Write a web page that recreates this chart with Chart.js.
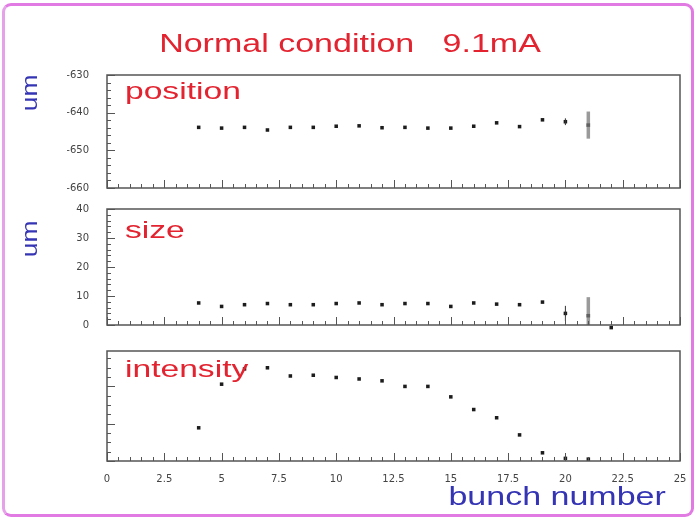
<!DOCTYPE html>
<html>
<head>
<meta charset="utf-8">
<script src="https://cdn.jsdelivr.net/npm/chart.js@4"></script>
<style>
  html, body { margin: 0; padding: 0; background: #fff; }
  #page { position: relative; width: 696px; height: 518px; overflow: hidden; background: #fff; }
  #frame {
    position: absolute; left: 2px; top: 3px; width: 686px; height: 508px;
    border: 3px solid #e27ae4; border-left-color: #e6a2e8; border-radius: 9px;
  }
  canvas { position: absolute; left: 0; top: 0; }
  .txt { position: absolute; font-family: "Liberation Sans", Arial, sans-serif; white-space: pre; line-height: 1; }
  .red { color: #e3232f; }
  .blue { color: #3434b4; }
</style>
</head>
<body>
<div id="page">
  <div id="frame"></div>
  <canvas id="c-pos" width="696" height="518"></canvas>
  <canvas id="c-size" width="696" height="518"></canvas>
  <canvas id="c-int" width="696" height="518"></canvas>
  <div class="txt red" style="left:0;width:700px;text-align:center;top:31px;font-size:25px;transform:scaleX(1.36);transform-origin:350px 0;">Normal condition   9.1mA</div>
  <div class="txt red" style="left:125px;top:79px;font-size:24px;transform:scaleX(1.4);transform-origin:0 0;">position</div>
  <div class="txt red" style="left:125px;top:218px;font-size:24px;transform:scaleX(1.4);transform-origin:0 0;">size</div>
  <div class="txt red" style="left:125px;top:357px;font-size:24px;transform:scaleX(1.4);transform-origin:0 0;">intensity</div>
  <div class="txt blue" style="left:15px;top:80px;font-size:22px;transform:rotate(-90deg) scaleX(1.2);transform-origin:16px 12px;">um</div>
  <div class="txt blue" style="left:15px;top:226px;font-size:22px;transform:rotate(-90deg) scaleX(1.2);transform-origin:16px 12px;">um</div>
  <div class="txt blue" style="right:30px;top:484px;font-size:25px;transform:scaleX(1.36);transform-origin:100% 0;">bunch number</div>
</div>
<script>
// bunch numbers along the shared x axis
const posBunch = [4, 5, 6, 7, 8, 9, 10, 11, 12, 13, 14, 15, 16, 17, 18, 19, 20, 21];
const posValues = [-643.9, -644.1, -643.9, -644.6, -643.9, -643.9, -643.6, -643.5, -644.0,
  -643.9, -644.1, -644.1, -643.6, -642.7, -643.7, -641.9, -642.4, -643.3];
const posErrors = [0, 0, 0, 0, 0, 0, 0, 0, 0, 0, 0, 0, 0, 0, 0, 0, 0.9, 3.6];

const sizeBunch = [4, 5, 6, 7, 8, 9, 10, 11, 12, 13, 14, 15, 16, 17, 18, 19, 20, 21, 22];
const sizeValues = [7.6, 6.4, 7.0, 7.4, 7.0, 7.0, 7.4, 7.6, 7.0, 7.4, 7.4, 6.4, 7.6, 7.2, 7.0, 7.9, 4.0, 3.2, -0.9];
const sizeErrors = [0, 0, 0, 0, 0, 0, 0, 0, 0, 0, 0, 0, 0, 0, 0, 0, 2.6, 6.4, 0];

const intBunch = [4, 5, 6, 7, 8, 9, 10, 11, 12, 13, 14, 15, 16, 17, 18, 19, 20, 21];
const intValues = [0.89, 2.06, 2.47, 2.50, 2.28, 2.30, 2.24, 2.20, 2.15, 2.00, 2.00, 1.72, 1.38, 1.16, 0.70, 0.22, 0.07, 0.05];

const xMin = 0, xMax = 25, xStep = 2.5;
const posTicks = [-660, -650, -640, -630];
const sizeTicks = [0, 10, 20, 30, 40];

const tickFont = { family: "'DejaVu Sans', sans-serif", size: 10 };
const frameColor = "#555";

// ROOT-style frame: box plus ticks pointing inward from left and bottom edges
const framePlugin = {
  id: "frame",
  afterDraw(chart, args, opts) {
    const { ctx, chartArea: a, scales } = chart;
    ctx.save();
    ctx.strokeStyle = frameColor;
    ctx.lineWidth = 1.5;
    ctx.strokeRect(a.left, a.top, a.right - a.left, a.bottom - a.top);
    ctx.lineWidth = 1;
    ctx.beginPath();
    for (let v = xMin; v <= xMax + 1e-6; v += 0.5) {
      const px = Math.round(scales.x.getPixelForValue(v)) + 0.5;
      const major = Math.abs(v / xStep - Math.round(v / xStep)) < 1e-6;
      ctx.moveTo(px, a.bottom);
      ctx.lineTo(px, a.bottom - (major ? 8 : 4));
    }
    const y = scales.y;
    for (let v = y.min; v <= y.max + 1e-6; v += opts.minor) {
      const py = Math.round(y.getPixelForValue(v)) + 0.5;
      const major = Math.abs(v / opts.major - Math.round(v / opts.major)) < 1e-6;
      ctx.moveTo(a.left, py);
      ctx.lineTo(a.left + (major ? 8 : 4), py);
    }
    ctx.stroke();
    ctx.restore();
  },
};

// vertical error bars, read from dataset.errors; the big ones come out grey and wide
const errorPlugin = {
  id: "errors",
  afterDatasetsDraw(chart) {
    const { ctx, scales } = chart;
    chart.data.datasets.forEach((ds) => {
      if (!ds.errors) return;
      ds.data.forEach((p, i) => {
        const e = ds.errors[i];
        if (!e) return;
        const px = scales.x.getPixelForValue(p.x);
        const lo = Math.max(p.y - e, scales.y.min);
        const hi = Math.min(p.y + e, scales.y.max);
        ctx.save();
        ctx.strokeStyle = e > 3 ? "rgba(120,120,120,0.75)" : "#333";
        ctx.lineWidth = e > 3 ? 3.5 : 1;
        ctx.beginPath();
        ctx.moveTo(px, scales.y.getPixelForValue(lo));
        ctx.lineTo(px, scales.y.getPixelForValue(hi));
        ctx.stroke();
        ctx.restore();
      });
    });
  },
};

function panel(id, cfg) {
  const data = cfg.bunch.map((b, i) => ({ x: b, y: cfg.values[i] }));
  new Chart(document.getElementById(id), {
    type: "scatter",
    data: {
      datasets: [{
        data: data,
        errors: cfg.errors,
        pointStyle: "rect",
        pointRadius: 2.5,
        backgroundColor: "#1c1c1c",
        borderColor: "#1c1c1c",
        borderWidth: 0,
        clip: false,
      }],
    },
    options: {
      responsive: false,
      animation: false,
      events: [],
      layout: { padding: { left: 67, right: 16, top: cfg.top, bottom: 518 - cfg.bottom - (cfg.xLabels ? 22 : 0) } },
      plugins: {
        legend: { display: false },
        tooltip: { enabled: false },
        frame: { major: cfg.major, minor: cfg.minor },
      },
      scales: {
        x: {
          type: "linear",
          min: xMin,
          max: xMax,
          afterFit: (s) => { s.height = cfg.xLabels ? 22 : 0; },
          grid: { display: false },
          border: { display: false },
          ticks: {
            display: !!cfg.xLabels,
            stepSize: xStep,
            padding: 4,
            color: "#444",
            font: tickFont,
            maxRotation: 0,
          },
        },
        y: {
          type: "linear",
          min: cfg.min,
          max: cfg.max,
          afterFit: (s) => { s.width = 40; },
          afterBuildTicks: (s) => {
            s.ticks = (cfg.ticks || []).map((v) => ({ value: v }));
          },
          grid: { display: false },
          border: { display: false },
          ticks: {
            display: !!cfg.ticks,
            padding: 10,
            color: "#444",
            font: tickFont,
          },
        },
      },
    },
    plugins: [framePlugin, errorPlugin],
  });
}

panel("c-pos", {
  bunch: posBunch, values: posValues, errors: posErrors,
  min: -660, max: -630, ticks: posTicks, major: 10, minor: 2, top: 75, bottom: 188,
});
panel("c-size", {
  bunch: sizeBunch, values: sizeValues, errors: sizeErrors,
  min: 0, max: 40, ticks: sizeTicks, major: 10, minor: 2, top: 209, bottom: 325,
});
panel("c-int", {
  bunch: intBunch, values: intValues, errors: null,
  min: 0, max: 2.95, ticks: null, major: 1, minor: 0.25, top: 351, bottom: 461, xLabels: true,
});
</script>
</body>
</html>
